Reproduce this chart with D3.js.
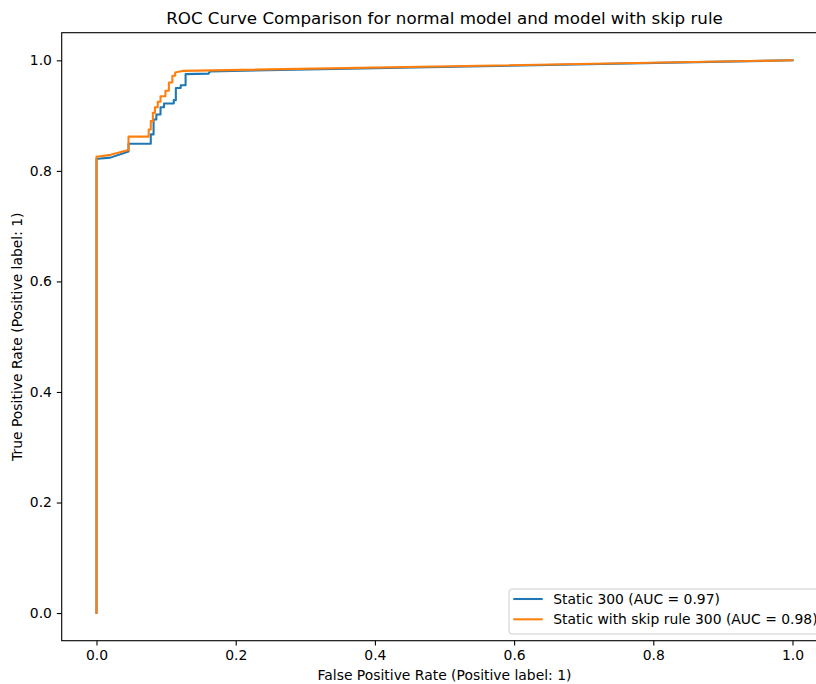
<!DOCTYPE html>
<html>
<head>
<meta charset="utf-8">
<script src="https://cdn.jsdelivr.net/npm/d3@7"></script>
<style>
  body { margin: 0; background: #fff; }
  text { font-family: "DejaVu Sans", sans-serif; fill: #000; }
</style>
</head>
<body>
<svg id="chart" width="816" height="684"></svg>
<script>
// ROC points
var staticFpr = [0, 0, 0.002, 0.02, 0.046, 0.046, 0.078, 0.078, 0.082, 0.082, 0.086, 0.086, 0.092, 0.092, 0.097, 0.097, 0.111, 0.111, 0.114, 0.114, 0.121, 0.121, 0.128, 0.128, 0.161, 0.163, 1.0];
var staticTpr = [0, 0.822, 0.822, 0.824, 0.835, 0.849, 0.849, 0.866, 0.866, 0.893, 0.893, 0.902, 0.902, 0.915, 0.915, 0.922, 0.922, 0.928, 0.928, 0.950, 0.950, 0.955, 0.955, 0.975, 0.976, 0.980, 1.0];

var skipFpr = [0, 0, 0.003, 0.02, 0.046, 0.046, 0.075, 0.075, 0.078, 0.078, 0.081, 0.081, 0.084, 0.084, 0.088, 0.088, 0.092, 0.092, 0.099, 0.099, 0.104, 0.104, 0.109, 0.109, 0.113, 0.113, 0.125, 1.0];
var skipTpr = [0, 0.826, 0.826, 0.829, 0.838, 0.862, 0.862, 0.875, 0.875, 0.890, 0.890, 0.905, 0.905, 0.915, 0.915, 0.925, 0.925, 0.935, 0.935, 0.945, 0.945, 0.960, 0.960, 0.972, 0.972, 0.978, 0.981, 1.0];

var seriesNames = ["Static 300 (AUC = 0.97)", "Static with skip rule 300 (AUC = 0.98)"];
var seriesColors = ["#1f77b4", "#ff7f0e"];
var tickValues = [0.0, 0.2, 0.4, 0.6, 0.8, 1.0];

var svg = d3.select("#chart");

var plotLeft = 61.7, plotRight = 827.3, plotTop = 32.7, plotBottom = 640.7;

var x = d3.scaleLinear().domain([-0.05, 1.05]).range([plotLeft, plotRight]);
var y = d3.scaleLinear().domain([-0.05, 1.05]).range([plotBottom, plotTop]);

var series = [
  d3.zip(staticFpr, staticTpr),
  d3.zip(skipFpr, skipTpr)
];

var line = d3.line()
    .x(function (d) { return x(d[0]); })
    .y(function (d) { return y(d[1]); });

svg.selectAll("path.roc")
    .data(series)
    .enter().append("path")
    .attr("class", "roc")
    .attr("fill", "none")
    .attr("stroke", function (d, i) { return seriesColors[i]; })
    .attr("stroke-width", 2.08)
    .attr("stroke-linejoin", "round")
    .attr("stroke-linecap", "square")
    .attr("d", line);

// axes
var xAxis = svg.append("g")
    .attr("transform", "translate(0," + plotBottom + ")")
    .call(d3.axisBottom(x).tickValues(tickValues).tickFormat(d3.format(".1f")).tickSize(4.9).tickPadding(4.9));
var yAxis = svg.append("g")
    .attr("transform", "translate(" + plotLeft + ",0)")
    .call(d3.axisLeft(y).tickValues(tickValues).tickFormat(d3.format(".1f")).tickSize(4.9).tickPadding(4.9));

[xAxis, yAxis].forEach(function (g) {
  g.select(".domain").remove();
  g.selectAll("line").attr("stroke", "#000").attr("stroke-width", 1.1);
  g.selectAll("text").attr("font-size", "13.9px").attr("font-family", "DejaVu Sans").attr("fill", "#000");
});

// spines
svg.append("rect")
    .attr("x", plotLeft).attr("y", plotTop)
    .attr("width", plotRight - plotLeft).attr("height", plotBottom - plotTop)
    .attr("fill", "none")
    .attr("stroke", "#000")
    .attr("stroke-width", 1.1);

// titles
var cx = (plotLeft + plotRight) / 2;
svg.append("text")
    .attr("x", cx).attr("y", 24.4)
    .attr("text-anchor", "middle")
    .attr("font-size", "16.7px")
    .text("ROC Curve Comparison for normal model and model with skip rule");

svg.append("text")
    .attr("x", cx).attr("y", 680)
    .attr("text-anchor", "middle")
    .attr("font-size", "13.9px")
    .text("False Positive Rate (Positive label: 1)");

svg.append("text")
    .attr("transform", "translate(22," + ((plotTop + plotBottom) / 2) + ") rotate(-90)")
    .attr("text-anchor", "middle")
    .attr("font-size", "13.9px")
    .text("True Positive Rate (Positive label: 1)");

// legend
var legend = svg.append("g");
var box = legend.append("rect")
    .attr("x", 509).attr("y", 589)
    .attr("rx", 3).attr("ry", 3)
    .attr("height", 45)
    .attr("fill", "#fff").attr("fill-opacity", 0.8)
    .attr("stroke", "#ccc").attr("stroke-width", 1);

var maxLen = 0;
seriesNames.forEach(function (name, i) {
  var yy = 599 + i * 20.3;
  legend.append("line")
      .attr("x1", 513.3).attr("x2", 542.7)
      .attr("y1", yy).attr("y2", yy)
      .attr("stroke", seriesColors[i])
      .attr("stroke-width", 2.08);
  var t = legend.append("text")
      .attr("x", 553.3).attr("y", yy + 5)
      .attr("font-size", "13.9px")
      .text(name);
  maxLen = Math.max(maxLen, t.node().getComputedTextLength());
});
box.attr("width", 553.3 - 509 + maxLen + 5.5);
</script>
</body>
</html>
